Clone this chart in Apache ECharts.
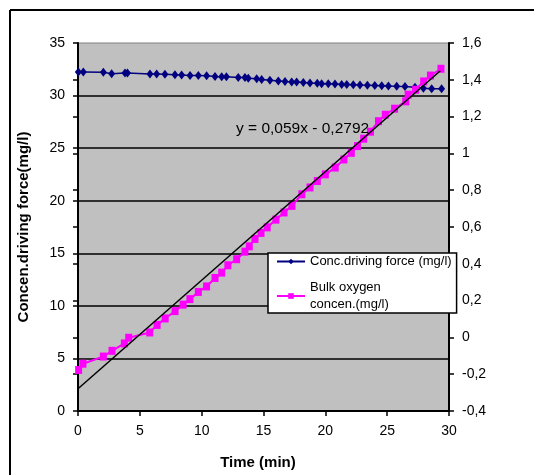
<!DOCTYPE html>
<html>
<head>
<meta charset="utf-8">
<script src="https://cdn.jsdelivr.net/npm/echarts@6/dist/echarts.min.js"></script>
<style>
html,body{margin:0;padding:0;background:#fff;}
#chart{width:534px;height:475px;}
</style>
</head>
<body>
<div id="chart"></div>
<script>
// Time (min) for the driving-force series
const driveTime = [0.03, 0.43, 2.05, 2.72, 3.8, 4.0, 5.82, 6.36, 7.03, 7.84, 8.38, 9.06, 9.73, 10.4, 11.08, 11.62, 12.0, 12.96, 13.5, 13.77, 14.45, 14.85, 15.52, 16.2, 16.74, 17.28, 17.68, 18.22, 18.76, 19.35, 19.7, 20.24, 20.78, 21.32, 21.73, 22.26, 22.8, 23.4, 24.0, 24.56, 25.1, 25.77, 26.44, 27.25, 27.93, 28.6, 29.4];
// Conc. driving force (mg/l), left axis
const driveVal = [32.23, 32.23, 32.22, 32.08, 32.15, 32.15, 32.05, 32.05, 32.03, 31.97, 31.95, 31.92, 31.9, 31.88, 31.82, 31.8, 31.8, 31.73, 31.72, 31.65, 31.6, 31.52, 31.45, 31.38, 31.35, 31.3, 31.28, 31.25, 31.2, 31.18, 31.13, 31.12, 31.1, 31.06, 31.05, 31.03, 31.0, 30.98, 30.96, 30.93, 30.9, 30.88, 30.87, 30.78, 30.7, 30.64, 30.64];
// Time (min) for the bulk oxygen series
const bulkTime = [0.05, 0.4, 2.05, 2.75, 3.75, 4.1, 5.8, 6.4, 7.05, 7.85, 8.5, 9.05, 9.73, 10.4, 11.08, 11.62, 12.12, 12.83, 13.5, 13.85, 14.31, 14.8, 15.3, 16.0, 16.66, 17.3, 18.1, 18.76, 19.35, 20.0, 20.8, 21.5, 22.1, 22.6, 23.1, 23.65, 24.3, 24.85, 25.6, 26.5, 26.7, 27.3, 27.95, 28.5, 29.35];
// Bulk oxygen concen. (right axis)
const bulkVal = [-0.177, -0.143, -0.104, -0.073, -0.033, -0.002, 0.027, 0.068, 0.103, 0.143, 0.178, 0.208, 0.247, 0.277, 0.323, 0.352, 0.392, 0.425, 0.466, 0.495, 0.535, 0.568, 0.598, 0.64, 0.679, 0.715, 0.778, 0.815, 0.85, 0.886, 0.923, 0.967, 1.003, 1.04, 1.08, 1.118, 1.175, 1.21, 1.243, 1.283, 1.319, 1.346, 1.391, 1.423, 1.46];
// Linear trend line end points
const trendX = [0, 29.3];
const trendY = [-0.2792, 1.449];
// Tick settings
const xTicks = {min: 0, max: 30, interval: 5};
const leftTicks = {min: 0, max: 35, interval: 5};
const rightTicks = {min: -0.4, max: 1.6, interval: 0.2};
const trendLabel = 'y = 0,059x - 0,2792';
const seriesNames = ['Conc.driving force (mg/l)', 'Bulk oxygen\nconcen.(mg/l)'];

const FONT = '"Liberation Sans", Arial, sans-serif';
const chart = echarts.init(document.getElementById('chart'), null, {renderer: 'canvas'});
const fmtComma = v => String(Math.round(v * 10) / 10).replace('.', ',');

chart.setOption({
  animation: false,
  backgroundColor: '#ffffff',
  textStyle: {fontFamily: FONT, color: '#000'},
  grid: {
    left: 78, right: 85, top: 43, bottom: 62,
    show: true, backgroundColor: '#c0c0c0', borderColor: '#808080', borderWidth: 1
  },
  legend: {
    data: seriesNames,
    orient: 'vertical',
    left: 268, top: 253,
    backgroundColor: '#ffffff',
    borderColor: '#000000', borderWidth: 1.5,
    padding: [0, 5, 0, 8],
    itemGap: 9,
    itemWidth: 28, itemHeight: 7,
    textStyle: {fontFamily: FONT, fontSize: 13, color: '#000', lineHeight: 17}
  },
  xAxis: {
    type: 'value', min: xTicks.min, max: xTicks.max, interval: xTicks.interval,
    name: 'Time (min)', nameLocation: 'middle', nameGap: 44,
    nameTextStyle: {fontFamily: FONT, fontSize: 15, fontWeight: 'bold', color: '#000', padding: [0, 11, 0, 0]},
    axisLine: {show: true, onZero: false, lineStyle: {color: '#000', width: 2}},
    axisTick: {show: true, length: 5, lineStyle: {color: '#000', width: 1.5}},
    axisLabel: {fontFamily: FONT, fontSize: 14, color: '#000', margin: 13},
    splitLine: {show: false}
  },
  yAxis: [
    {
      type: 'value', min: leftTicks.min, max: leftTicks.max, interval: leftTicks.interval,
      position: 'left',
      name: 'Concen.driving force(mg/l)', nameLocation: 'middle', nameGap: 47,
      nameTextStyle: {fontFamily: FONT, fontSize: 15, fontWeight: 'bold', color: '#000'},
      axisLine: {show: true, onZero: false, lineStyle: {color: '#000', width: 2}},
      axisTick: {show: true, length: 5, lineStyle: {color: '#000', width: 1.5}},
      axisLabel: {fontFamily: FONT, fontSize: 14, color: '#000', margin: 13},
      splitLine: {show: true, showMinLine: false, showMaxLine: false, lineStyle: {color: '#000', width: 1.5}}
    },
    {
      type: 'value', min: rightTicks.min, max: rightTicks.max, interval: rightTicks.interval,
      position: 'right',
      axisLine: {show: true, onZero: false, lineStyle: {color: '#000', width: 2}},
      axisTick: {show: true, length: 5, lineStyle: {color: '#000', width: 1.5}},
      axisLabel: {fontFamily: FONT, fontSize: 14, color: '#000', margin: 13, formatter: fmtComma},
      splitLine: {show: false}
    },
    {
      type: 'value', min: rightTicks.min, max: rightTicks.max, interval: rightTicks.interval,
      position: 'right',
      axisLine: {show: false},
      axisTick: {show: true, inside: true, length: 5, lineStyle: {color: '#000', width: 1.5}},
      axisLabel: {show: false},
      splitLine: {show: false}
    }
  ],
  graphic: [
    {type: 'line', shape: {x1: 10, y1: 10, x2: 534, y2: 10}, style: {stroke: '#000', lineWidth: 2}, silent: true},
    {type: 'line', shape: {x1: 10, y1: 10, x2: 10, y2: 475}, style: {stroke: '#000', lineWidth: 2}, silent: true},
    {type: 'text', left: 236, top: 121, z: 100,
     style: {text: trendLabel, font: '15.5px ' + FONT, fill: '#000'}}
  ],
  series: [
    {
      name: seriesNames[0], type: 'line', yAxisIndex: 0, z: 3,
      data: driveTime.map((t, i) => [t, driveVal[i]]),
      symbol: 'diamond', symbolSize: [7, 9], showSymbol: true,
      itemStyle: {color: '#000080'},
      lineStyle: {color: '#000080', width: 1.5}
    },
    {
      name: seriesNames[1], type: 'line', yAxisIndex: 1, z: 4,
      data: bulkTime.map((t, i) => [t, bulkVal[i]]),
      symbol: 'rect', symbolSize: [7, 8], showSymbol: true,
      itemStyle: {color: '#ff00ff'},
      lineStyle: {color: '#ff00ff', width: 2}
    },
    {
      name: 'trend', type: 'line', yAxisIndex: 1, z: 5,
      data: trendX.map((t, i) => [t, trendY[i]]),
      symbol: 'none', silent: true,
      lineStyle: {color: '#000', width: 1.5}
    }
  ]
});
</script>
</body>
</html>
